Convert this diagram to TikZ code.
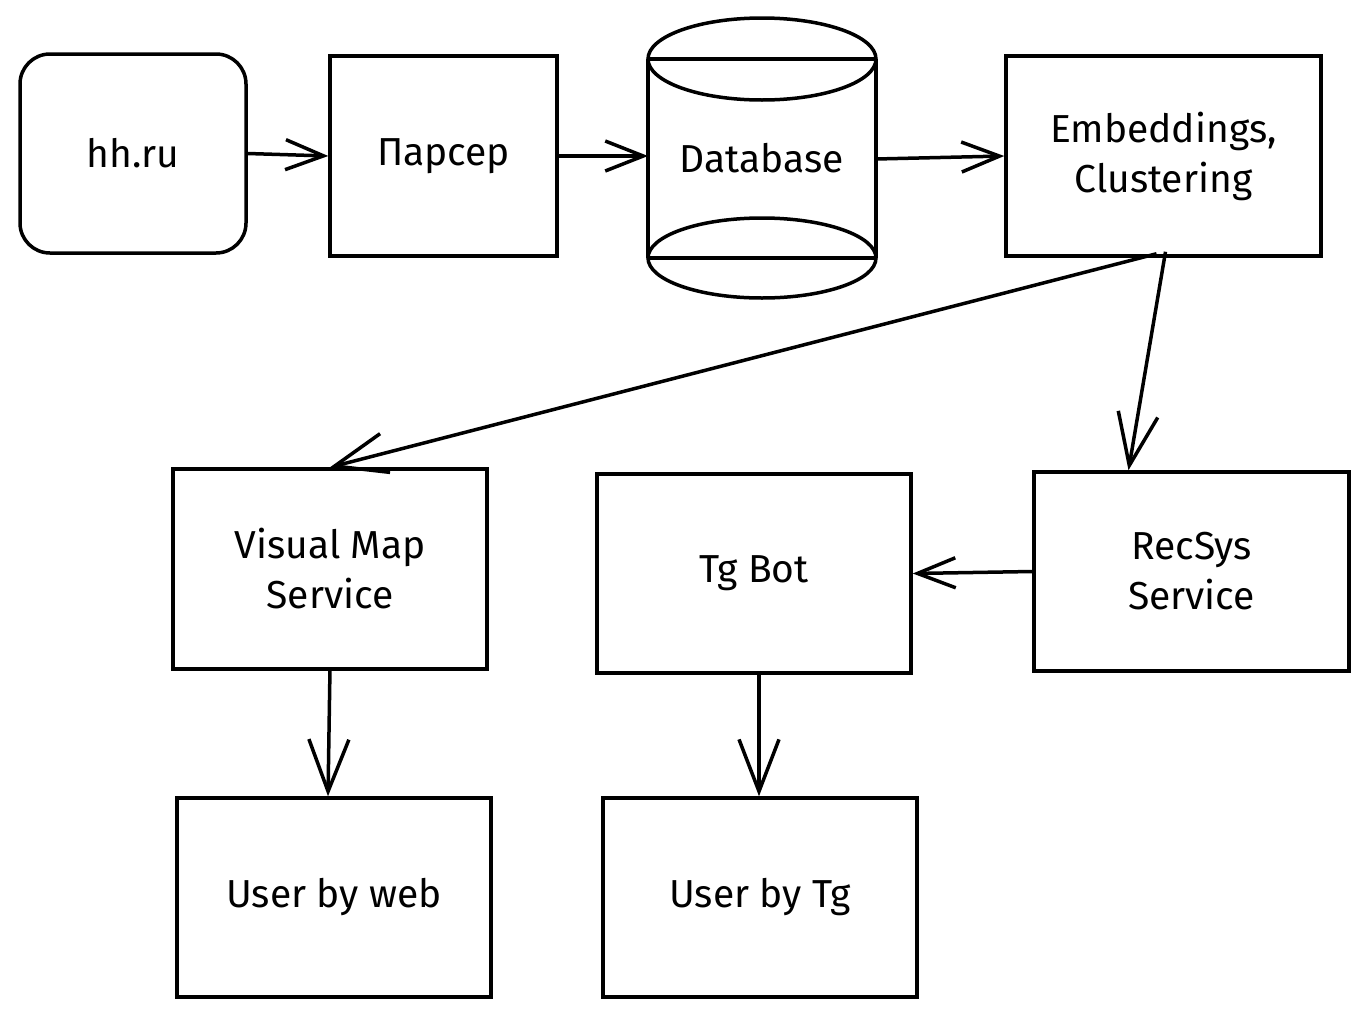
\documentclass[tikz,border=0pt]{standalone}
\usepackage{fontspec}
\setmainfont{Fira Sans}
\usetikzlibrary{arrows.meta}
\begin{document}
\begin{tikzpicture}[x=1pt,y=-1pt,
  every node/.style={font=\fontsize{39}{50}\selectfont},
  box/.style={draw, line width=3.5pt, rectangle, inner sep=0pt},
  conn/.style={line width=3.5pt, -{Straight Barb[length=38pt,width=30pt,line width=3.5pt]}},
  bigconn/.style={line width=3.5pt, -{Straight Barb[length=52pt,width=40pt,line width=3.5pt]}}
]
\useasboundingbox (0,0) rectangle (1369,1018);
% nodes
\node[box, rounded corners=30pt, minimum width=226pt, minimum height=199pt] (hh) at (133,153.5) {hh.ru};
\node[box, minimum width=227pt, minimum height=200pt] (pars) at (443.5,156) {Парсер};
% database cylinder
\node[minimum width=228pt, minimum height=280pt, inner sep=0pt] (db) at (762,158) {Database};
\draw[line width=3.5pt] (648,59) -- (648,258) (876,59) -- (876,258);
\draw[line width=3.5pt] (762,59) ellipse [x radius=114, y radius=41];
\draw[line width=3.5pt] (762,258) ellipse [x radius=114, y radius=40];
\draw[line width=3.5pt] (648,59) -- (876,59) (648,258) -- (876,258);
\coordinate (dbw) at (648,156);
\coordinate (dbe) at (876,159);
\node[box, minimum width=315pt, minimum height=200pt, align=center] (emb) at (1163.5,156) {Embeddings,\\Clustering};
\node[box, minimum width=314pt, minimum height=200pt, align=center] (vis) at (330,569) {Visual Map\\Service};
\node[box, minimum width=314pt, minimum height=199pt] (tg) at (754,573.5) {Tg Bot};
\node[box, minimum width=315pt, minimum height=199pt, align=center] (rec) at (1191.5,571.5) {RecSys\\Service};
\node[box, minimum width=314pt, minimum height=199pt] (uw) at (334,897.5) {User by web};
\node[box, minimum width=314pt, minimum height=199pt] (ut) at (760,897.5) {User by Tg};
% connectors
\draw[conn] (hh.east) -- (pars.west);
\draw[conn] (pars.east) -- (dbw);
\draw[conn] (dbe) -- (emb.west);
\draw[bigconn] ([xshift=-7pt,yshift=4pt]emb.south) -- (vis.north);
\draw[bigconn] ([xshift=2pt,yshift=6pt]emb.south) -- ([xshift=-63pt]rec.north);
\draw[conn] (rec.west) -- (tg.east);
\draw[bigconn] ([yshift=3pt]vis.south) -- ([xshift=-6pt]uw.north);
\draw[bigconn] ([xshift=5pt,yshift=4pt]tg.south) -- ([xshift=-1pt]ut.north);
\end{tikzpicture}
\end{document}
